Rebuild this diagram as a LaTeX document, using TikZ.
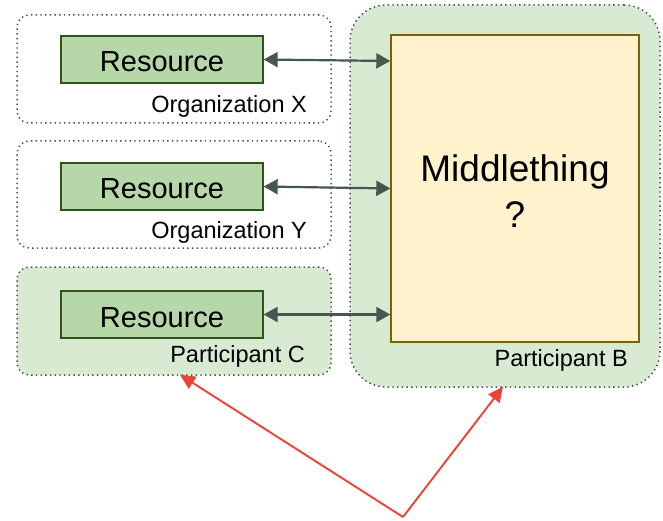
\documentclass[tikz,border=0pt]{standalone}
\usepackage{fontspec}
\setmainfont{Liberation Sans}
\usetikzlibrary{arrows.meta}
\definecolor{groupfill}{HTML}{D9EAD3}
\definecolor{groupline}{HTML}{4A4F54}
\definecolor{resfill}{HTML}{B6D7A8}
\definecolor{resline}{HTML}{2E5418}
\definecolor{midfill}{HTML}{FFF2CC}
\definecolor{midline}{HTML}{7F6000}
\definecolor{linkcol}{HTML}{45574F}
\definecolor{alertcol}{HTML}{EA4335}
\tikzset{
  grp/.style={draw=groupline, line width=1.5pt, dash pattern=on 1.4pt off 3.3pt,
    rounded corners=12pt, inner sep=0pt},
  resbox/.style={draw=resline, fill=resfill, line width=1.3pt, minimum width=202pt,
    minimum height=47pt, inner sep=0pt, text height=25pt, text depth=0pt,
    font=\fontsize{29}{32}\selectfont},
  grplabel/.style={anchor=east, inner sep=0pt, font=\fontsize{23.5}{26}\selectfont},
  link/.style={draw=linkcol, line width=2.2pt,
    {Triangle[length=14pt,width=15pt]}-{Triangle[length=14pt,width=15pt]}},
  alert/.style={draw=alertcol, line width=1.9pt, -{Triangle[length=15pt,width=14pt]}}
}
\begin{document}
\begin{tikzpicture}[x=1pt, y=-1pt]
  \useasboundingbox (0,0) rectangle (663,521);

  % outer groups
  \node[grp, minimum width=314pt, minimum height=108pt] (orgx) at (174,69) {};
  \node[grp, minimum width=314pt, minimum height=107pt] (orgy) at (174,194.5) {};
  \node[grp, fill=groupfill, minimum width=314pt, minimum height=108pt] (partc) at (174,321) {};
  \node[grp, fill=groupfill, rounded corners=36pt, minimum width=310pt, minimum height=382pt] (partb) at (505,196) {};

  % group captions
  \node[grplabel] (lblx) at (307,106.5) {Organization X};
  \node[grplabel] (lbly) at (307,232.5) {Organization Y};
  \node[grplabel] (lblc) at (305,356.5) {Participant C};
  \node[grplabel] (lblb) at (628,360.5) {Participant B};

  % the shared component
  \node[draw=midline, fill=midfill, line width=1.4pt, minimum width=248pt, minimum height=307pt,
    inner sep=0pt] (mid) at (515,188.5) {};
  \node[align=center, font=\fontsize{37}{46}\selectfont] (midtext) at (515,191) {Middlething\\?};

  % resources
  \node[resbox] (resx) at (162,59.5) {Resource};
  \node[resbox] (resy) at (162,186.5) {Resource};
  \node[resbox] (resc) at (162,314.5) {Resource};

  % links between resources and the component
  \draw[link] (resx.east) -- ([yshift=-1.5pt]resx.east -| mid.west);
  \draw[link] (resy.east) -- ([yshift=-2pt]resy.east -| mid.west);
  \draw[link] (resc.east) -- (resc.east -| mid.west);

  % participants pointer
  \coordinate (fork) at (403,517);
  \draw[alert] (fork) -- ([xshift=6pt,yshift=1pt]partc.south);
  \draw[alert] (fork) -- ([xshift=-2pt,yshift=1pt]partb.south);
\end{tikzpicture}
\end{document}
